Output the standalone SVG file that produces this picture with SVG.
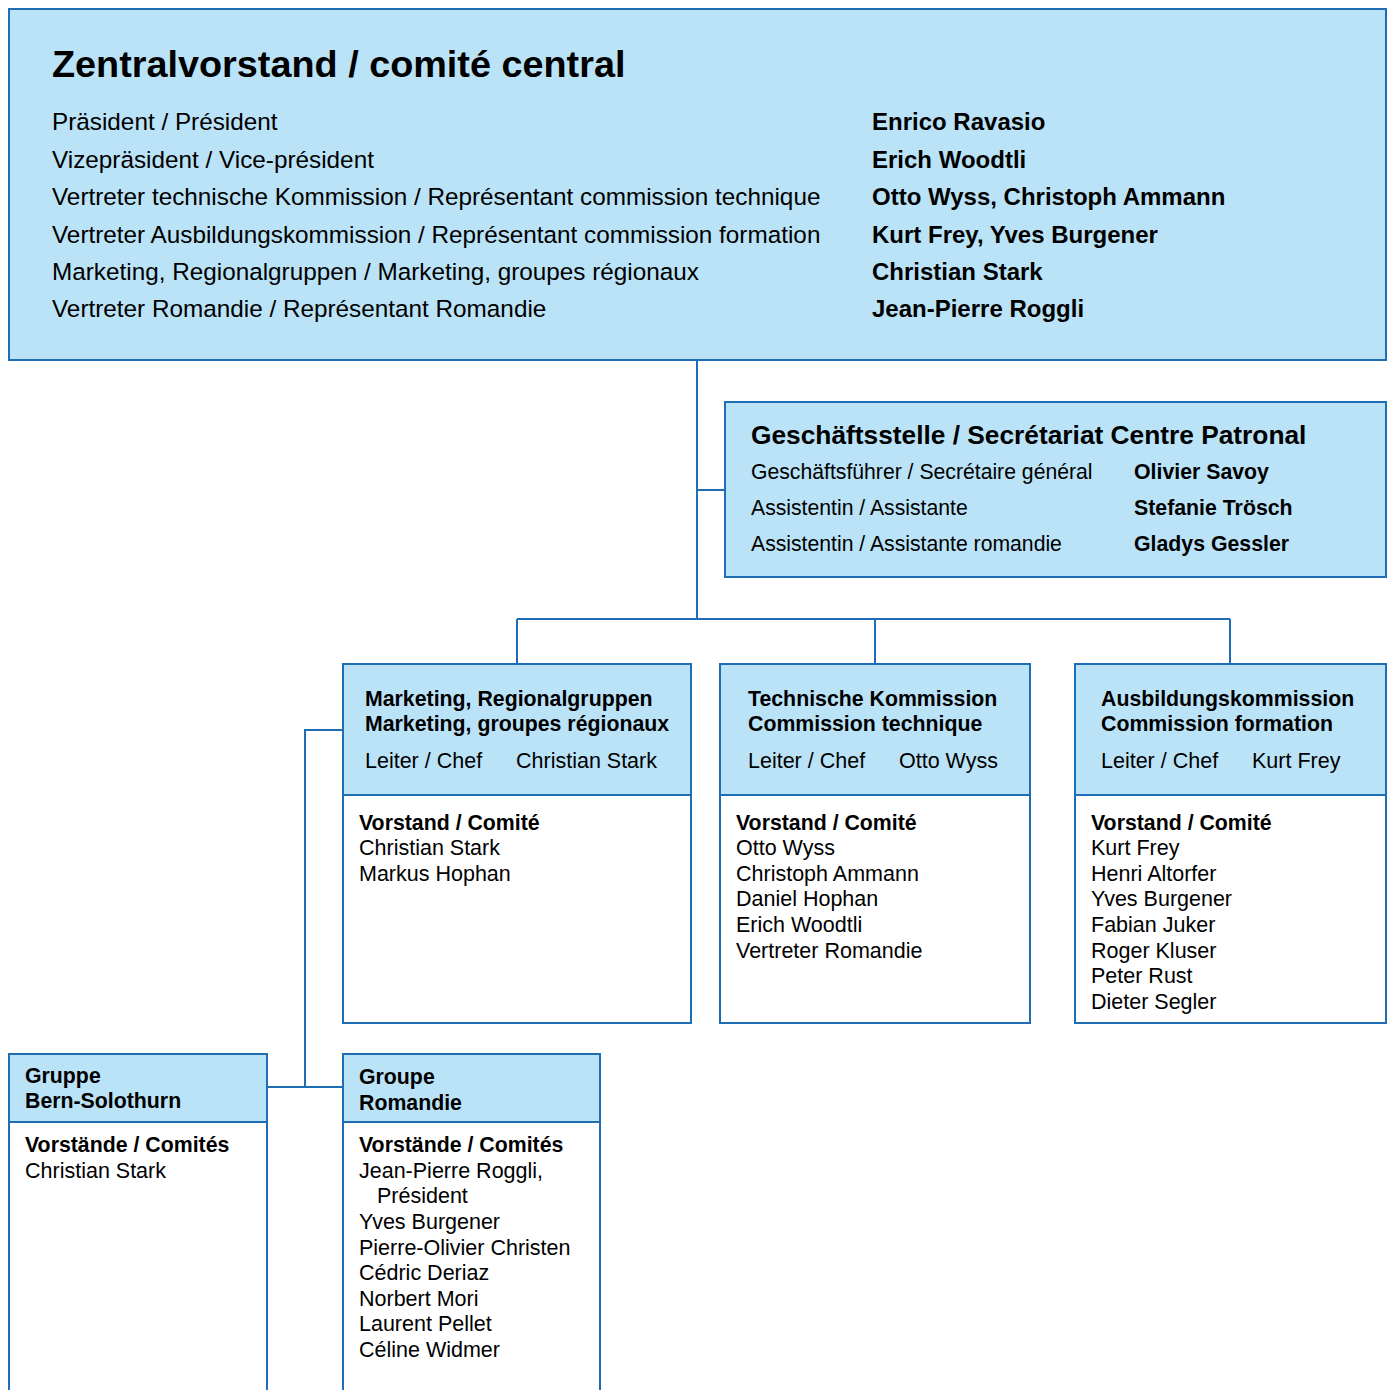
<svg xmlns="http://www.w3.org/2000/svg" width="1392" height="1390" viewBox="0 0 1392 1390">
<style>
.box{fill:#bbe3f7;stroke:#1f6db5;stroke-width:2}
.body{fill:#ffffff;stroke:#1f6db5;stroke-width:2}
.con{fill:none;stroke:#1f6db5;stroke-width:2}
text{font-family:"Liberation Sans",Arial,sans-serif;fill:#000}
.t1{font-size:37.8px;font-weight:bold}
.r24{font-size:24.3px}
.b24{font-size:24px;font-weight:bold}
.t2{font-size:26.3px;font-weight:bold}
.g21{font-size:21.2px}
.r21{font-size:21.5px}
.b21{font-size:21.3px;font-weight:bold}
</style>
<rect width="1392" height="1390" fill="#ffffff"/>
<g id="connectors">
<path class="con" d="M697 360 V619"/>
<path class="con" d="M697 490 H725"/>
<path class="con" d="M517 619 H1230"/>
<path class="con" d="M517 619 V664 M875 619 V664 M1230 619 V664"/>
<path class="con" d="M343 730 H305 V1087"/>
<path class="con" d="M267 1087 H343"/>
</g>
<g id="zentralvorstand">
<rect class="box" x="9" y="9" width="1377" height="351"/>
<text class="t1" x="52" y="77">Zentralvorstand / comité central</text>
<text class="r24" x="52" y="130">Präsident / Président</text>
<text class="r24" x="52" y="168">Vizepräsident / Vice-président</text>
<text class="r24" x="52" y="205">Vertreter technische Kommission / Représentant commission technique</text>
<text class="r24" x="52" y="243">Vertreter Ausbildungskommission / Représentant commission formation</text>
<text class="r24" x="52" y="280">Marketing, Regionalgruppen / Marketing, groupes régionaux</text>
<text class="r24" x="52" y="317">Vertreter Romandie / Représentant Romandie</text>
<text class="b24" x="872" y="130">Enrico Ravasio</text>
<text class="b24" x="872" y="168">Erich Woodtli</text>
<text class="b24" x="872" y="205">Otto Wyss, Christoph Ammann</text>
<text class="b24" x="872" y="243">Kurt Frey, Yves Burgener</text>
<text class="b24" x="872" y="280">Christian Stark</text>
<text class="b24" x="872" y="317">Jean-Pierre Roggli</text>
</g>
<g id="geschaeftsstelle">
<rect class="box" x="725" y="402" width="661" height="175"/>
<text class="t2" x="751" y="444">Geschäftsstelle / Secrétariat Centre Patronal</text>
<text class="g21" x="751" y="479">Geschäftsführer / Secrétaire général</text>
<text class="g21" x="751" y="515">Assistentin / Assistante</text>
<text class="g21" x="751" y="551">Assistentin / Assistante romandie</text>
<text class="b21" x="1134" y="479">Olivier Savoy</text>
<text class="b21" x="1134" y="515">Stefanie Trösch</text>
<text class="b21" x="1134" y="551">Gladys Gessler</text>
</g>
<g id="marketing">
<rect class="body" x="343" y="664" width="348" height="359"/>
<rect class="box" x="343" y="664" width="348" height="131"/>
<text class="b21" x="365" y="706">Marketing, Regionalgruppen</text>
<text class="b21" x="365" y="731">Marketing, groupes régionaux</text>
<text class="r21" x="365" y="768">Leiter / Chef</text>
<text class="r21" x="516" y="768">Christian Stark</text>
<text class="b21" x="359" y="830">Vorstand / Comité</text>
<text class="r21" x="359" y="855">Christian Stark</text>
<text class="r21" x="359" y="881">Markus Hophan</text>
</g>
<g id="technische">
<rect class="body" x="720" y="664" width="310" height="359"/>
<rect class="box" x="720" y="664" width="310" height="131"/>
<text class="b21" x="748" y="706">Technische Kommission</text>
<text class="b21" x="748" y="731">Commission technique</text>
<text class="r21" x="748" y="768">Leiter / Chef</text>
<text class="r21" x="899" y="768">Otto Wyss</text>
<text class="b21" x="736" y="830">Vorstand / Comité</text>
<text class="r21" x="736" y="855">Otto Wyss</text>
<text class="r21" x="736" y="881">Christoph Ammann</text>
<text class="r21" x="736" y="906">Daniel Hophan</text>
<text class="r21" x="736" y="932">Erich Woodtli</text>
<text class="r21" x="736" y="958">Vertreter Romandie</text>
</g>
<g id="ausbildung">
<rect class="body" x="1075" y="664" width="311" height="359"/>
<rect class="box" x="1075" y="664" width="311" height="131"/>
<text class="b21" x="1101" y="706">Ausbildungskommission</text>
<text class="b21" x="1101" y="731">Commission formation</text>
<text class="r21" x="1101" y="768">Leiter / Chef</text>
<text class="r21" x="1252" y="768">Kurt Frey</text>
<text class="b21" x="1091" y="830">Vorstand / Comité</text>
<text class="r21" x="1091" y="855">Kurt Frey</text>
<text class="r21" x="1091" y="881">Henri Altorfer</text>
<text class="r21" x="1091" y="906">Yves Burgener</text>
<text class="r21" x="1091" y="932">Fabian Juker</text>
<text class="r21" x="1091" y="958">Roger Kluser</text>
<text class="r21" x="1091" y="983">Peter Rust</text>
<text class="r21" x="1091" y="1009">Dieter Segler</text>
</g>
<g id="bern-solothurn">
<rect class="body" x="9" y="1054" width="258" height="360"/>
<rect class="box" x="9" y="1054" width="258" height="68"/>
<text class="b21" x="25" y="1083">Gruppe</text>
<text class="b21" x="25" y="1108">Bern-Solothurn</text>
<text class="b21" x="25" y="1152">Vorstände / Comités</text>
<text class="r21" x="25" y="1178">Christian Stark</text>
</g>
<g id="romandie">
<rect class="body" x="343" y="1054" width="257" height="360"/>
<rect class="box" x="343" y="1054" width="257" height="68"/>
<text class="b21" x="359" y="1084">Groupe</text>
<text class="b21" x="359" y="1110">Romandie</text>
<text class="b21" x="359" y="1152">Vorstände / Comités</text>
<text class="r21" x="359" y="1178">Jean-Pierre Roggli,</text>
<text class="r21" x="377" y="1203">Président</text>
<text class="r21" x="359" y="1229">Yves Burgener</text>
<text class="r21" x="359" y="1255">Pierre-Olivier Christen</text>
<text class="r21" x="359" y="1280">Cédric Deriaz</text>
<text class="r21" x="359" y="1306">Norbert Mori</text>
<text class="r21" x="359" y="1331">Laurent Pellet</text>
<text class="r21" x="359" y="1357">Céline Widmer</text>
</g>
</svg>
